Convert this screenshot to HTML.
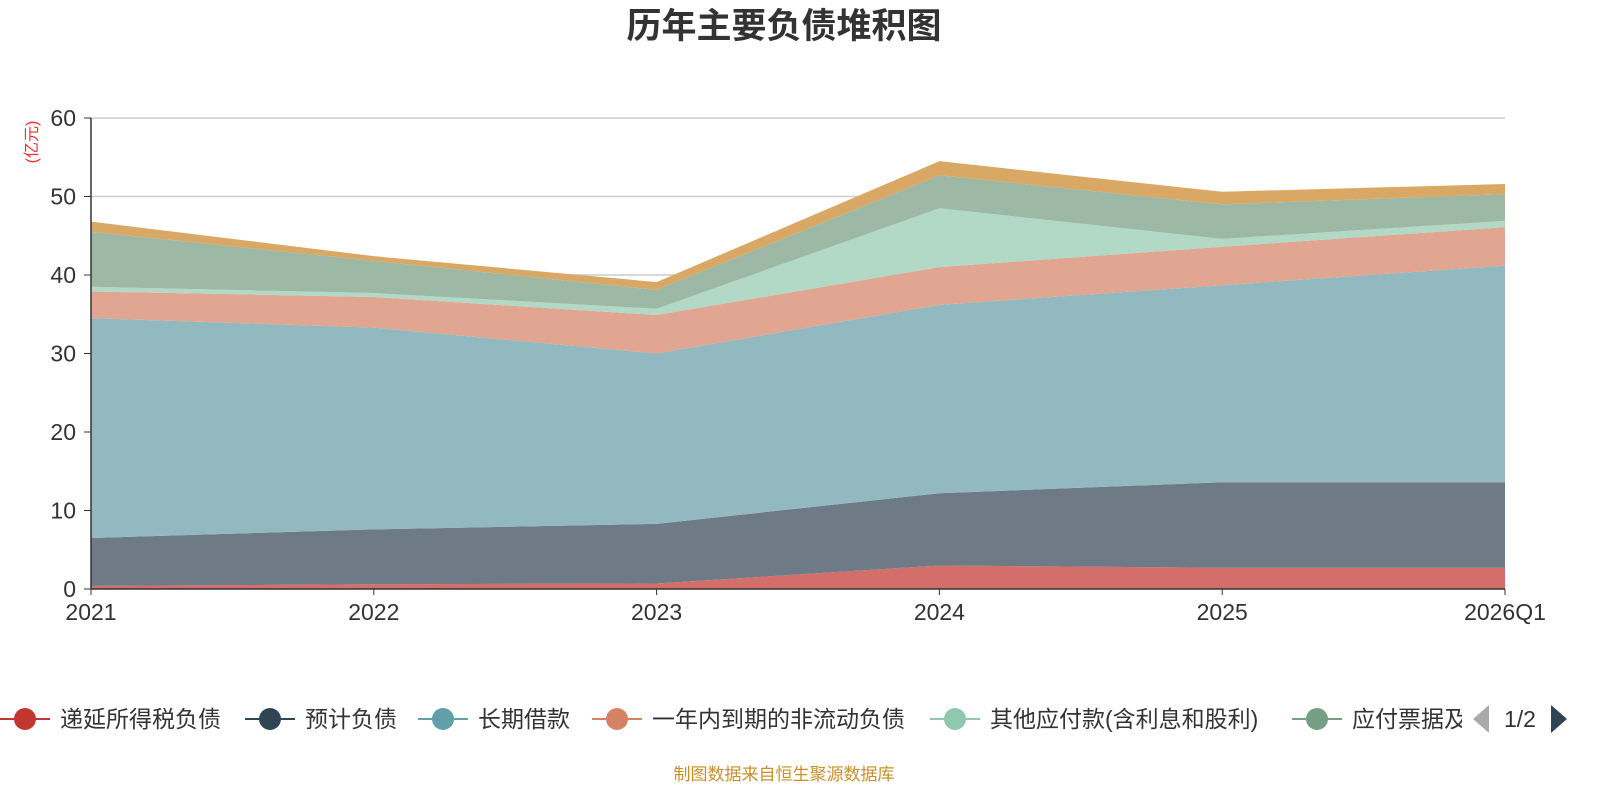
<!DOCTYPE html>
<html><head><meta charset="utf-8"><style>
html,body{margin:0;padding:0;background:#fff;width:1600px;height:800px;overflow:hidden}
svg{font-family:"Liberation Sans","Noto Sans CJK SC",sans-serif}
</style></head><body>
<svg id="c" width="1600" height="800" xmlns="http://www.w3.org/2000/svg">
<text x="784" y="38" text-anchor="middle" font-size="35" font-weight="bold" fill="#333">历年主要负债堆积图</text>
<text transform="translate(37,142) rotate(-90)" text-anchor="middle" font-size="16" fill="#e53333">(亿元)</text>
<g id="grid"></g><g id="areas"></g><g id="axes"></g><g id="legend"></g>
<text x="784" y="780" text-anchor="middle" font-size="17" fill="#c8902a">制图数据来自恒生聚源数据库</text>
</svg>
<script>
const categories=["2021","2022","2023","2024","2025","2026Q1"];
const seriesNames=["递延所得税负债","预计负债","长期借款","一年内到期的非流动负债","其他应付款(含利息和股利)","应付票据及应付账款","其他"];
const s1=[0.4,0.6,0.7,3.0,2.7,2.7];
const s2=[6.1,7.0,7.6,9.2,10.9,10.9];
const s3=[28.0,25.7,21.7,24.0,25.1,27.6];
const s4=[3.4,3.9,4.9,4.8,4.9,4.9];
const s5=[0.6,0.5,0.8,7.5,1.0,0.8];
const s6=[7.0,4.1,2.4,4.2,4.4,3.4];
const s7=[1.3,0.6,1.0,1.8,1.6,1.3];
const yTicks=[0,10,20,30,40,50,60];
const series=[s1,s2,s3,s4,s5,s6,s7];
const lineColors=["#c23531","#2f4554","#61a0a8","#d48265","#91c7ae","#749f83","#ca8622"];
const fills=["#d46e6b","#6e7a85","#91b9bf","#e0a692","#b2d8c6","#9db8a5","#d9a864"];
const X0=91,X1=1505,Y0=589,Y1=118;
const xs=i=>X0+(X1-X0)*i/(categories.length-1);
const ys=v=>Y0-(Y0-Y1)*v/60;
const NS="http://www.w3.org/2000/svg";
function mk(t,a,p){const e=document.createElementNS(NS,t);for(const k in a)e.setAttribute(k,a[k]);p.appendChild(e);return e;}
const grid=document.getElementById('grid'),areas=document.getElementById('areas'),axes=document.getElementById('axes'),leg=document.getElementById('legend');
yTicks.forEach(t=>{
 if(t>0){const l=mk('line',{x1:X0,x2:X1,y1:ys(t),y2:ys(t),stroke:'#ccc','stroke-width':1.5},grid);
 
 }
 const tx=mk('text',{x:76,y:ys(t)+8,'text-anchor':'end','font-size':23,fill:'#333'},axes);tx.textContent=t;
 
 
 const tk=mk('line',{x1:84,x2:X0,y1:ys(t),y2:ys(t),stroke:'#333'},axes);
 
 
});
let base=categories.map(()=>0);
series.forEach((s,k)=>{
 const top=s.map((v,i)=>base[i]+v);
 let d='M'+top.map((v,i)=>xs(i)+','+ys(v)).join('L');
 for(let i=categories.length-1;i>=0;i--)d+='L'+xs(i)+','+ys(base[i]);
 const p=mk('path',{d:d+'Z',fill:fills[k],stroke:'none'},areas);
 
 
 base=top;
});
mk('line',{x1:X0,x2:X0,y1:Y1,y2:Y0,stroke:'#333','stroke-width':1.5},axes);
mk('line',{x1:X0,x2:X1,y1:Y0,y2:Y0,stroke:'#333','stroke-width':1.5},axes);
categories.forEach((c,i)=>{
 const tk=mk('line',{x1:xs(i),x2:xs(i),y1:Y0,y2:Y0+6,stroke:'#333'},axes);
 
 
 const t=mk('text',{x:xs(i),y:620,'text-anchor':'middle','font-size':23,fill:'#333'},axes);t.textContent=c;
 
 
});
const lx=[0,245,418,592,930,1292];
const defs=mk('defs',{},leg);const cp=mk('clipPath',{id:'lc'},defs);mk('rect',{x:0,y:690,width:1462,height:60},cp);
const lg=mk('g',{'clip-path':'url(#lc)'},leg);
lx.forEach((x,k)=>{
 const g=mk('g',{},lg);
 
 
 mk('line',{x1:x,x2:x+50,y1:719,y2:719,stroke:lineColors[k],'stroke-width':2},g);
 mk('circle',{cx:x+25,cy:719,r:11,fill:lineColors[k]},g);
 const t=mk('text',{x:x+60,y:727,'font-size':23,fill:'#333'},g);t.textContent=seriesNames[k];
});
const pa=mk('path',{d:'M1489,705L1473,719L1489,733Z',fill:'#aaa'},leg);


const pt=mk('text',{x:1520,y:727,'text-anchor':'middle','font-size':23,fill:'#333'},leg);pt.textContent='1/2';


const na=mk('path',{d:'M1551,705L1567,719L1551,733Z',fill:'#2f4554'},leg);


</script>
</body></html>
